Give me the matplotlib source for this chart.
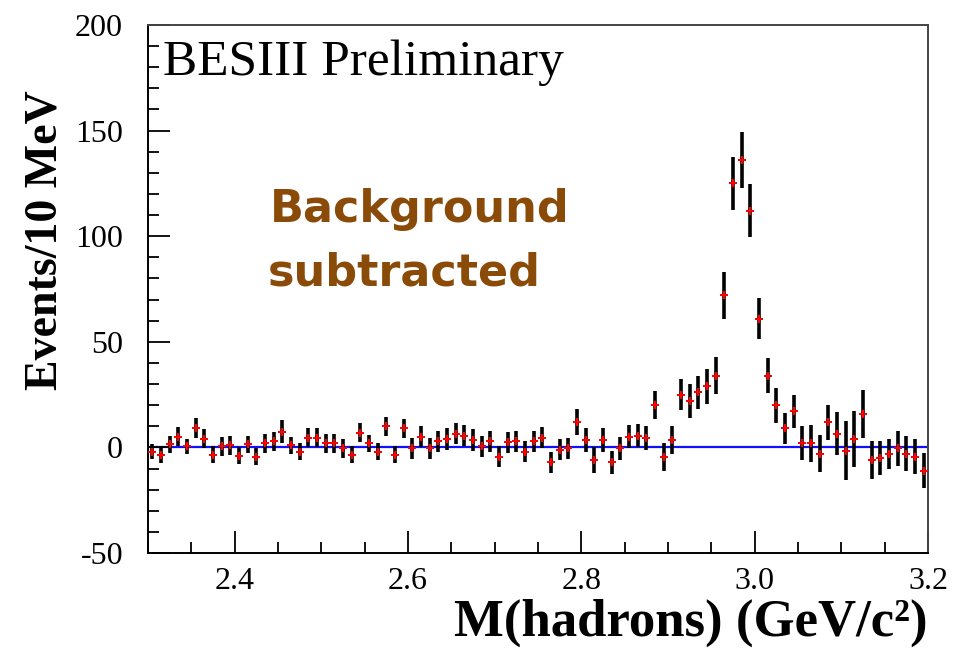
import matplotlib
matplotlib.use("Agg")
import matplotlib.pyplot as plt
from matplotlib.ticker import MultipleLocator
import numpy as np

plt.rcParams["axes.unicode_minus"] = False

# 10 MeV bins from 2.30 to 3.20 GeV/c^2
bin_lo = 2.30
bin_width = 0.01
events = [
    -2, -3.5, 1.5, 5, 0.5, 9, 4, -3.5, 0.5, 1,
    -4, 1.5, -4.5, 2, 3, 7.5, 1, -2, 4.5, 4.5,
    2, 2, -0.5, -3.5, 7, 2, -2, 10, -3.5, 9,
    -0.5, 5, -0.5, 3, 4, 6.5, 5.5, 3.5, 0.5, 3,
    -4.5, 2.5, 3, -2, 3, 4.5, -7, -1, -0.5, 12,
    3.5, -6, 3.5, -7, -0.5, 5, 5.5, 4.5, 20, -4.5,
    3.5, 25, 22, 26, 29, 34, 72, 125, 136, 112,
    61, 34, 20, 9, 17, 2, 2, -3, 12, 6.5,
    -1.5, 4, 16, -6, -5, -3, -0.5, -3, -4.5, -11,
]
errors = [
    3.5, 4, 4, 4.5, 3.5, 4.7, 4.5, 4, 4.5, 4.5,
    4, 4, 4, 4.5, 4.5, 5.5, 4, 4, 4.5, 4.5,
    4.5, 4.5, 4.5, 4, 4.5, 4, 4, 4.5, 4, 4.5,
    5, 5, 5, 5, 5, 5, 5, 5, 5, 5,
    5, 5, 5, 5, 5, 5, 5, 5, 5, 6,
    5.5, 6, 5.5, 5.5, 5.5, 5.5, 5.5, 5.5, 6.5, 6.5,
    6.7, 7.5, 7.9, 7.9, 8.3, 8.7, 11, 12.6, 13.4, 12.6,
    9.6, 8.3, 8.3, 7.5, 7.9, 7.9, 8.7, 8.7, 8.3, 10.3,
    13.8, 13.4, 11.4, 9, 7.9, 7.1, 8.3, 8.3, 8.3, 8.3,
]

centers = bin_lo + bin_width * (np.arange(len(events)) + 0.5)

serif = ["Liberation Serif", "DejaVu Serif"]

fig = plt.figure(figsize=(9.64, 6.61), dpi=100)
ax = fig.add_axes([148 / 964, 1 - 553 / 661, 780 / 964, 528 / 661])

ax.axhline(0, color="#1010ff", lw=1.6, zorder=1)
ax.errorbar(centers, events, yerr=errors, fmt="none", ecolor="black",
            elinewidth=2.6, capsize=0, zorder=2)
ax.plot(centers, events, "P", color="red", markersize=6,
        markeredgewidth=0, zorder=3)

ax.set_xlim(2.3, 3.2)
ax.set_ylim(-50, 200)
ax.xaxis.set_major_locator(MultipleLocator(0.2))
ax.xaxis.set_minor_locator(MultipleLocator(0.05))
ax.yaxis.set_major_locator(MultipleLocator(50))
ax.yaxis.set_minor_locator(MultipleLocator(10))
ax.xaxis.set_major_formatter(plt.FuncFormatter(lambda v, p: f"{v:.1f}"))
ax.tick_params(which="both", direction="in", top=False, right=False,
               width=1.3, labelsize=23)
ax.tick_params(axis="x", pad=10)
ax.tick_params(axis="y", pad=18)
ax.tick_params(which="major", length=16)
ax.tick_params(which="minor", length=8)
for lab in ax.get_xticklabels() + ax.get_yticklabels():
    lab.set_family(serif)
for sp in ax.spines.values():
    sp.set_linewidth(1.4)
for side in ("top", "right"):
    ax.spines[side].set_color("#444444")

ax.set_xlabel("M(hadrons) (GeV/c²)", fontsize=38,
              fontweight="bold", family=serif, ha="right", x=1.0, labelpad=2)
ax.set_ylabel("Events/10 MeV", fontsize=33, fontweight="bold",
              family=serif, y=0.593, labelpad=6)

ax.text(15 / 780, 1 - 50 / 528, "BESIII Preliminary", transform=ax.transAxes,
        fontsize=37, family=serif, va="baseline", ha="left")

brown = "#8a4b08"
fig.text(270 / 964, 1 - 222 / 661, "Background", color=brown, fontsize=32,
         fontweight="bold", family="DejaVu Sans", va="baseline")
fig.text(268 / 964, 1 - 285 / 661, "subtracted", color=brown, fontsize=32,
         fontweight="bold", family="DejaVu Sans", va="baseline")

fig.savefig("out.png", dpi=100)
